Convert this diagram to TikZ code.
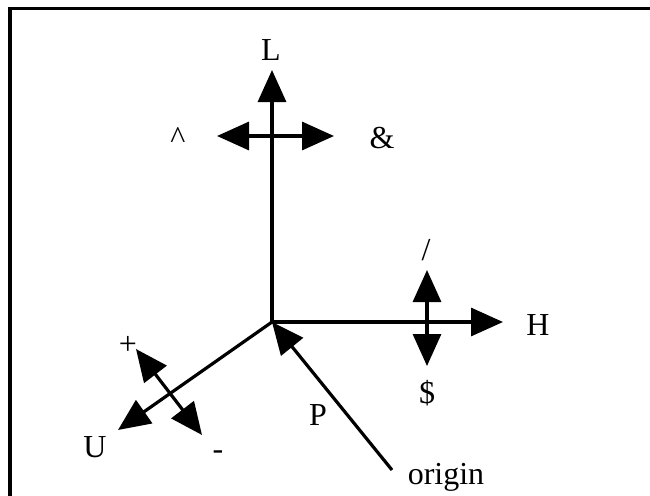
\documentclass[tikz,border=0pt]{standalone}
\usepackage{fontspec}
\setmainfont{Liberation Serif}
\usetikzlibrary{arrows.meta}
\begin{document}
\begin{tikzpicture}[x=1pt,y=-1pt,
  ax/.style={line width=3.2pt,-{Triangle[length=32pt,width=28pt]}},
  dax/.style={line width=3.2pt,{Triangle[length=32pt,width=28pt]}-{Triangle[length=32pt,width=28pt]}},
  lbl/.style={inner sep=0pt,font=\fontsize{32}{36}\selectfont}]
\useasboundingbox (0,0) rectangle (650,495);
\begin{scope}
\clip (0,0) rectangle (650,495);
\draw[line width=3.2pt] (10,8.5) rectangle (700,540);
\end{scope}
\coordinate (O) at (272,322);
\coordinate (Lt) at (272,70);
\coordinate (Ht) at (503,322);
\coordinate (Ut) at (118,430);
\coordinate (Ps) at (392,470);
\coordinate (c1a) at (217,136);
\coordinate (c1b) at (334,136);
\coordinate (c2a) at (427,270);
\coordinate (c2b) at (427,366);
\coordinate (c3a) at (136,349);
\coordinate (c3b) at (202,435);
\draw[ax] (O) -- (Lt);
\draw[ax] (O) -- (Ht);
\draw[ax] (O) -- (Ut);
\draw[ax] (Ps) -- (O);
\draw[dax] (c1a) -- (c1b);
\draw[dax] (c2a) -- (c2b);
\draw[dax] (c3a) -- (c3b);
\node[lbl] (L) at (271,50) {L};
\node[lbl] (caret) at (178,138) {\^{}};
\node[lbl] (amp) at (382,138) {\&};
\node[lbl] (slash) at (426,250) {/};
\node[lbl] (dollar) at (427,393) {\$};
\node[lbl] (H) at (538,325) {H};
\node[lbl] (plus) at (128,345) {+};
\node[lbl] (minus) at (218,455) {-};
\node[lbl] (U) at (95,447) {U};
\node[lbl] (P) at (318,415) {P};
\node[lbl,anchor=base] (orig) at (446,484) {origin};
\end{tikzpicture}
\end{document}
